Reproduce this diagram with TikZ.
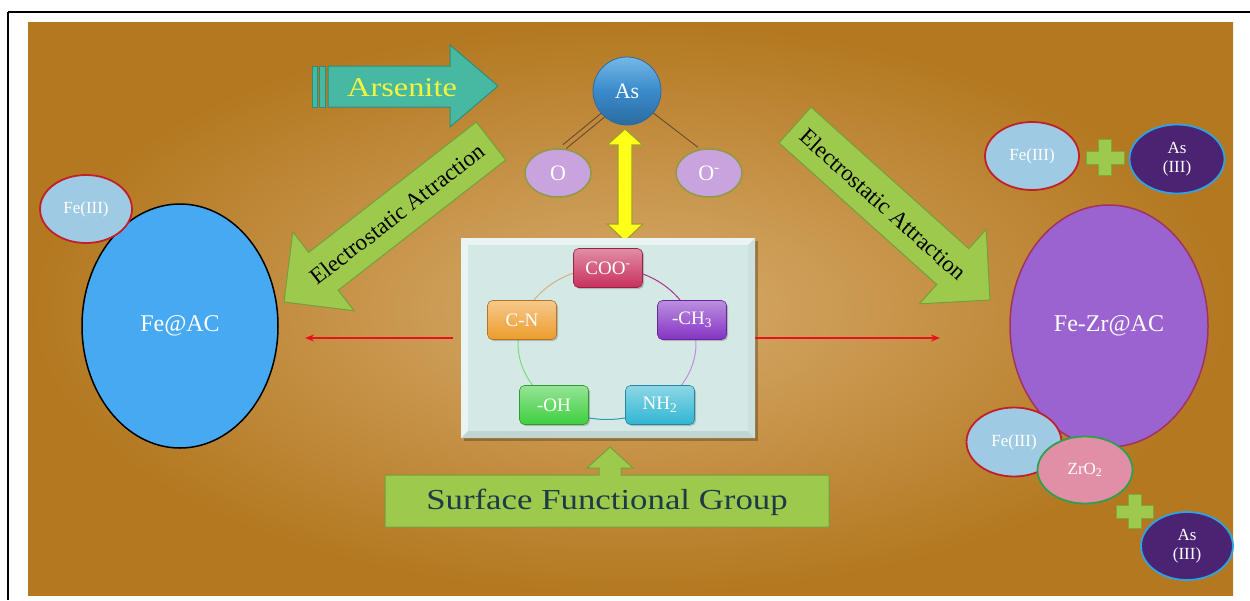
\documentclass[tikz,border=0pt]{standalone}
\usepackage{fontspec}
\setmainfont{Liberation Serif}
\usetikzlibrary{calc,shapes.geometric,arrows.meta,shadows}
\definecolor{cBgIn}{HTML}{D8AC6E}
\definecolor{cBgOut}{HTML}{B37820}
\definecolor{cTeal}{HTML}{47B9A2}
\definecolor{cTealD}{HTML}{2E8E7B}
\definecolor{cYelT}{HTML}{F4F43C}
\definecolor{cGreen}{HTML}{9DCA4C}
\definecolor{cGreenD}{HTML}{74A03A}
\definecolor{cYel}{HTML}{FFFF1A}
\definecolor{cYelD}{HTML}{A0A028}
\definecolor{cAs}{HTML}{3A8ACB}
\definecolor{cAsL}{HTML}{74B8E8}
\definecolor{cAsD}{HTML}{2B6C9F}
\definecolor{cO}{HTML}{C9A3DD}
\definecolor{cOD}{HTML}{8E9B45}
\definecolor{cBond}{HTML}{6A4A2C}
\definecolor{cBoxOut}{HTML}{EAF5F3}
\definecolor{cBoxIn}{HTML}{D4E9E6}
\definecolor{cBoxDk}{HTML}{BFD6D2}
\definecolor{cBoxMd}{HTML}{CCE1DE}
\definecolor{cFeAC}{HTML}{46A9F2}
\definecolor{cFe}{HTML}{9ECBE3}
\definecolor{cFeD}{HTML}{C21F2A}
\definecolor{cFeZr}{HTML}{9B63CF}
\definecolor{cFeZrD}{HTML}{A3325E}
\definecolor{cAsIII}{HTML}{4B2373}
\definecolor{cAsIIID}{HTML}{2FA4E2}
\definecolor{cZr}{HTML}{E08FA7}
\definecolor{cZrD}{HTML}{2F9F52}
\definecolor{cRed}{HTML}{E8121C}
\definecolor{cSfg}{HTML}{1D3B47}
\definecolor{cCOO}{HTML}{C8305C}
\definecolor{cCH}{HTML}{8433C4}
\definecolor{cNH}{HTML}{2FB6D2}
\definecolor{cOH}{HTML}{3ECF3E}
\definecolor{cCN}{HTML}{EE9C2C}
\tikzset{
  fs/.style={font=\fontsize{#1}{#1}\selectfont},
  ell/.style n args={2}{ellipse, minimum width=#1, minimum height=#2, inner sep=0pt, line width=1.8pt, text=white},
  fg/.style={rectangle, rounded corners=5pt, minimum width=69pt, minimum height=39pt, inner sep=0pt, text=white, fs=19, draw=#1!75!black, line width=0.6pt, top color=#1!55!white, bottom color=#1, drop shadow={opacity=0.45, shadow xshift=1.5pt, shadow yshift=-1.5pt}},
  garrow/.style={fill=cGreen, draw=cGreenD, line width=1pt},
  redarr/.style={draw=cRed, line width=2pt, -{Stealth[length=9pt,width=7pt]}},
  bond/.style={draw=cBond, line width=0.9pt, shorten >=3pt},
  plusshape/.style={fill=cGreen, draw=cGreenD!80!cGreen, line width=0.8pt},
}
\begin{document}
\begin{tikzpicture}[x=1pt,y=-1pt]
\useasboundingbox (0,0) rectangle (1250,600);
\fill[white] (0,0) rectangle (1250,600);
\shade[inner color=cBgIn, outer color=cBgOut] (28,22) rectangle (1233,595);
\draw[line width=2.6pt] (8,12) -- (1250,12);
\draw[line width=2pt] (8,12) -- (8,600);

% Arsenite arrow
\filldraw[fill=cTeal, draw=cTealD, line width=1pt] (328,66) -- (450,66) -- (450,45) -- (498,86) -- (450,127) -- (450,107) -- (328,107) -- cycle;
\filldraw[fill=cTeal, draw=cTealD, line width=0.8pt] (312,66) rectangle (317,107);
\filldraw[fill=cTeal, draw=cTealD, line width=0.8pt] (319,66) rectangle (325,107);
\node[fs=27, text=cYelT] (arsenite) at (402,88) {\scalebox{1.2}[1]{Arsenite}};

% yellow double arrow
\filldraw[fill=cYel, draw=cYelD, line width=1.2pt] (625,129) -- (643,145) -- (632,145) -- (632,224) -- (643,224) -- (625,241) -- (607,224) -- (618,224) -- (618,145) -- (607,145) -- cycle;

% As and O
\node[circle, minimum size=68pt, inner sep=0pt, top color=cAsL, bottom color=cAsD, middle color=cAs, draw=cAsD, line width=0.8pt, text=white, fs=22] (as) at (627,91) {As};
\node[ell={66pt}{48pt}, fill=cO, draw=cOD, line width=1.5pt, fs=22] (o1) at (558,173) {O};
\node[ell={66pt}{48pt}, fill=cO, draw=cOD, line width=1.5pt, fs=22] (o2) at (709,173) {O\textsuperscript{-}};
\draw[bond] ([shift={(-1.7,-1.9)}]as.225) -- ([shift={(-1.7,-1.9)}]o1.80);
\draw[bond] ([shift={(1.7,1.9)}]as.225) -- ([shift={(1.7,1.9)}]o1.80);
\draw[bond] (as.320) -- (o2.110);

% central box
\path node[minimum width=294pt, minimum height=200pt, inner sep=0pt] (box) at (608,338) {};
\fill[black, opacity=0.25] ([shift={(3,3)}]box.north west) rectangle ([shift={(3,3)}]box.south east);
\fill[cBoxOut] (box.north west) rectangle (box.south east);
\fill[cBoxDk] (box.south west) -- (box.south east) -- ([shift={(-7,-7)}]box.south east) -- ([shift={(7,-7)}]box.south west) -- cycle;
\fill[cBoxMd] (box.south east) -- (box.north east) -- ([shift={(-7,7)}]box.north east) -- ([shift={(-7,-7)}]box.south east) -- cycle;
\fill[cBoxIn] ([shift={(7,7)}]box.north west) rectangle ([shift={(-7,-7)}]box.south east);

% ring
\draw[cCOO!60!cCH, line width=1pt] plot[domain=-90:-18, samples=30] ({607+89*cos(\x)},{343.5+76*sin(\x)});
\draw[cCH!55!white, line width=1pt] plot[domain=-18:54, samples=30] ({607+89*cos(\x)},{343.5+76*sin(\x)});
\draw[cNH!85!black, line width=1pt] plot[domain=54:126, samples=30] ({607+89*cos(\x)},{343.5+76*sin(\x)});
\draw[cOH!70!white, line width=1pt] plot[domain=126:198, samples=30] ({607+89*cos(\x)},{343.5+76*sin(\x)});
\draw[cCN!60!cBond!60!white, line width=1pt] plot[domain=198:270, samples=30] ({607+89*cos(\x)},{343.5+76*sin(\x)});

\node[fg=cCOO] (coo) at (608,268) {COO\textsuperscript{-}};
\node[fg=cCH] (ch3) at (692,320) {-CH\textsubscript{3}};
\node[fg=cNH] (nh2) at (660,405) {NH\textsubscript{2}};
\node[fg=cOH] (oh) at (554,405) {-OH};
\node[fg=cCN] (cn) at (522,320) {C-N};

% red arrows
\coordinate (lend) at (305,338);
\coordinate (rend) at (940,338);
\draw[redarr, shorten <=8pt] (box.west) -- (lend);
\draw[redarr] (box.east) -- (rend);

% Surface functional group
\filldraw[fill=cGreen, draw=cGreenD, line width=1pt] (385,475) -- (599,475) -- (599,468) -- (587,468) -- (610,447) -- (633,468) -- (621,468) -- (621,475) -- (829,475) -- (829,527) -- (385,527) -- cycle;
\node[fs=29, text=cSfg] (sfg) at (607,502) {\scalebox{1.2}[1]{Surface Functional Group}};

% green arrows
\coordinate (lr) at (491,141);
\coordinate (lt) at (284,302);
\coordinate (lh) at ($(lt)!50pt!(lr)$);
\filldraw[garrow] ($(lr)!24pt!90:(lt)$) -- ($(lh)!24pt!90:(lt)$) -- ($(lh)!50pt!90:(lt)$) -- (lt) -- ($(lh)!50pt!-90:(lt)$) -- ($(lh)!24pt!-90:(lt)$) -- ($(lr)!24pt!-90:(lt)$) -- cycle;
\path (lr) -- (lh) node[pos=0.56, sloped, fs=23] (ltext) {Electrostatic Attraction};

\coordinate (rr) at (795,125);
\coordinate (rt) at (990,300);
\coordinate (rh) at ($(rt)!50pt!(rr)$);
\filldraw[garrow] ($(rr)!24pt!90:(rt)$) -- ($(rh)!24pt!90:(rt)$) -- ($(rh)!50pt!90:(rt)$) -- (rt) -- ($(rh)!50pt!-90:(rt)$) -- ($(rh)!24pt!-90:(rt)$) -- ($(rr)!24pt!-90:(rt)$) -- cycle;
\path (rr) -- (rh) node[pos=0.56, sloped, fs=23] (rtext) {Electrostatic Attraction};

% left side
\node[ell={196pt}{244pt}, fill=cFeAC, draw=black, line width=1.5pt, fs=24] (feac) at (180,326) {Fe@AC};
\node[ell={92pt}{68pt}, fill=cFe, draw=cFeD, fs=17] (fe1) at (86,209) {Fe(III)};

% right side
\node[ell={198pt}{242pt}, fill=cFeZr, draw=cFeZrD, line width=1.5pt, fs=24] (fezr) at (1109,326) {Fe-Zr@AC};
\node[ell={94pt}{68pt}, fill=cFe, draw=cFeD, fs=17] (fe2) at (1032,156) {Fe(III)};
\filldraw[plusshape] (1098.5,139.5) -- (1111.5,139.5) -- (1111.5,151) -- (1124,151) -- (1124,164) -- (1111.5,164) -- (1111.5,175) -- (1098.5,175) -- (1098.5,164) -- (1086,164) -- (1086,151) -- (1098.5,151) -- cycle;
\node[ell={95pt}{69pt}, fill=cAsIII, draw=cAsIIID, align=center, font=\fontsize{17}{19}\selectfont] (as2) at (1177,159) {As\\(III)};

\node[ell={95pt}{69pt}, fill=cFe, draw=cFeD, fs=17] (fe3) at (1014,442) {Fe(III)};
\node[ell={95pt}{67pt}, fill=cZr, draw=cZrD, fs=17] (zr) at (1085,470) {ZrO\textsubscript{2}};
\filldraw[plusshape] (1128.5,494) -- (1141.5,494) -- (1141.5,505) -- (1153,505) -- (1153,518) -- (1141.5,518) -- (1141.5,528) -- (1128.5,528) -- (1128.5,518) -- (1116,518) -- (1116,505) -- (1128.5,505) -- cycle;
\node[ell={92pt}{68pt}, fill=cAsIII, draw=cAsIIID, align=center, font=\fontsize{17}{19}\selectfont] (as3) at (1187,546) {As\\(III)};
\end{tikzpicture}
\end{document}
